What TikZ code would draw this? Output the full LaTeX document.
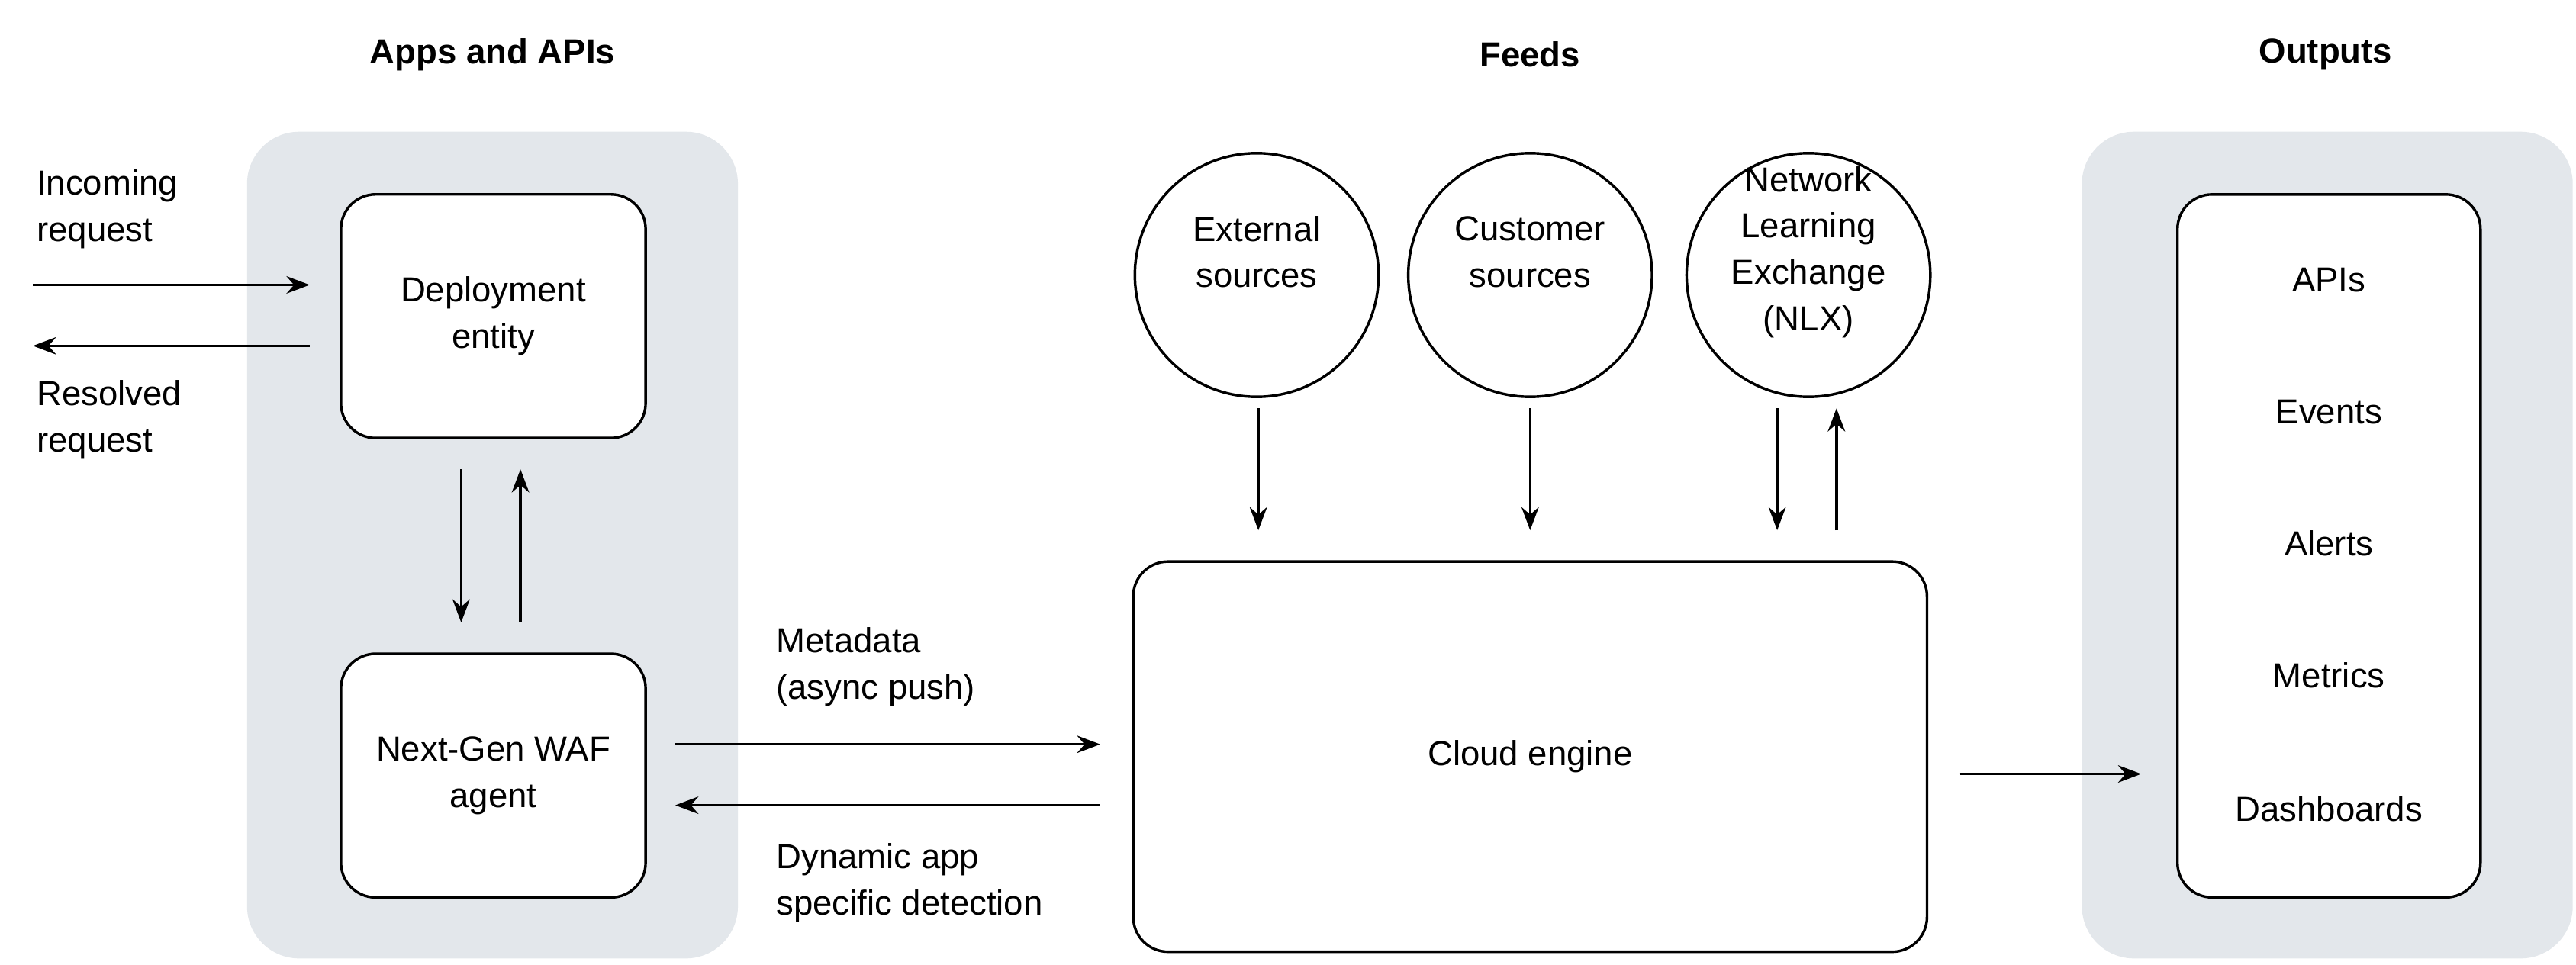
\documentclass[tikz,border=0pt]{standalone}
\usepackage{fontspec}
\setmainfont{Liberation Sans}
\usetikzlibrary{arrows.meta}
\definecolor{panel}{HTML}{E3E7EB}
\begin{document}
\begin{tikzpicture}[x=0.02cm,y=-0.02cm,
  box/.style={draw,line width=0.9pt,rounded corners=12pt,fill=white,align=center,font=\fontsize{12}{16}\selectfont},
  circ/.style={draw,line width=0.9pt,circle,minimum size=2.96cm,inner sep=0pt},
  pan/.style={fill=panel,rounded corners=18pt},
  lbl/.style={align=left,anchor=west,inner sep=0pt,font=\fontsize{12}{16}\selectfont},
  ttl/.style={font=\bfseries\fontsize{12}{16}\selectfont},
  arr/.style={line width=0.9pt,-{Stealth[length=8pt,width=6pt]}},
  txt/.style={align=center,font=\fontsize{12}{16}\selectfont}]
\useasboundingbox (0,0) rectangle (1564,586);
\fill[pan] (150,80) rectangle (448,582);
\fill[pan] (1264,80) rectangle (1562,582);
\node[ttl] (t1) at (299,33) {Apps and APIs};
\node[ttl] (t2) at (929,33) {Feeds};
\node[ttl] (t3) at (1412,33) {Outputs};
\node[box,minimum width=3.7cm,minimum height=2.96cm] (dep) at (299.5,192) {Deployment\\entity};
\node[box,minimum width=3.7cm,minimum height=2.96cm] (waf) at (299.5,471) {Next-Gen WAF\\agent};
\node[box,minimum width=9.64cm,minimum height=4.74cm] (cloud) at (929,459.5) {Cloud engine};
\node[box,minimum width=3.68cm,minimum height=8.54cm] (out) at (1414,331.5) {};
\node[txt] (o1) at (1414,170) {APIs};
\node[txt] (o2) at (1414,250) {Events};
\node[txt] (o3) at (1414,330) {Alerts};
\node[txt] (o4) at (1414,410) {Metrics};
\node[txt] (o5) at (1414,491) {Dashboards};
\node[circ] (c1) at (763,167) {};
\node[circ] (c2) at (929,167) {};
\node[circ] (c3) at (1098,167) {};
\node[txt] (c1t) at (763,153) {External\\sources};
\node[txt] (c2t) at (929,153) {Customer\\sources};
\node[txt] (c3t) at (1098,153) {Network\\Learning\\Exchange\\(NLX)};
\node[lbl] (inc) at (22,127) {Incoming\\request};
\node[lbl] (res) at (22,255) {Resolved\\request};
\node[lbl] (meta) at (471,405) {Metadata\\(async push)};
\node[lbl] (dyn) at (471,536) {Dynamic app\\specific detection};
\coordinate (i0) at (20,173); \coordinate (i1) at (188,173);
\coordinate (r0) at (188,210); \coordinate (r1) at (20,210);
\draw[arr] (i0) -- (i1);
\draw[arr] (r0) -- (r1);
\draw[arr] (280,285) -- (280,378);
\draw[arr] (316,378) -- (316,285);
\draw[arr] (764,248) -- (764,322);
\draw[arr] (929,248) -- (929,322);
\draw[arr] (1079,248) -- (1079,322);
\draw[arr] (1115,322) -- (1115,248);
\draw[arr] (410,452) -- (668,452);
\draw[arr] (668,489) -- (410,489);
\draw[arr] (1190,470) -- (1300,470);
\end{tikzpicture}
\end{document}
